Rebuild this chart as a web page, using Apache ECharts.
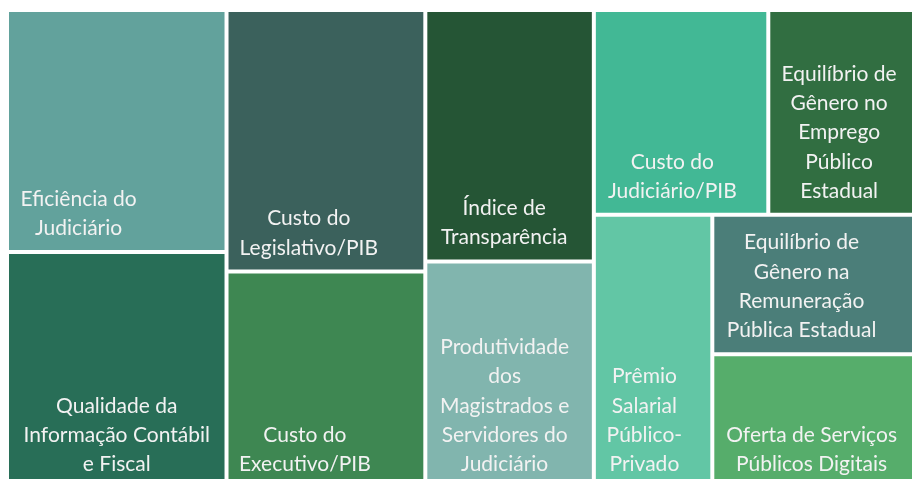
<!DOCTYPE html>
<html>
<head>
<meta charset="utf-8">
<script src="https://cdn.jsdelivr.net/npm/echarts@6/dist/echarts.min.js"></script>
<style>
  html, body { margin: 0; padding: 0; background: #fff; }
  #main { width: 912px; height: 479px; }
</style>
</head>
<body>
<div id="main"></div>
<script>
var chart = echarts.init(document.getElementById('main'));

// indicadores, na ordem em que aparecem no mapa
var names = [
  'Eficiência do\nJudiciário',
  'Qualidade da\nInformação Contábil\ne Fiscal',
  'Custo do\nLegislativo/PIB',
  'Custo do\nExecutivo/PIB',
  'Índice de\nTransparência',
  'Produtividade\ndos\nMagistrados e\nServidores do\nJudiciário',
  'Custo do\nJudiciário/PIB',
  'Equilíbrio de\nGênero no\nEmprego\nPúblico\nEstadual',
  'Prêmio\nSalarial\nPúblico-\nPrivado',
  'Equilíbrio de\nGênero na\nRemuneração\nPública Estadual',
  'Oferta de Serviços\nPúblicos Digitais'
];
// peso (%) de cada indicador = área do bloco
var values = [12.23, 11.92, 11.96, 9.91, 9.75, 8.79, 8.22, 6.96, 7.45, 6.54, 6.27];

var colors = ['#62a29c', '#286e57', '#3b615c', '#3e8752', '#255535', '#81b5ae',
              '#42b895', '#316e41', '#62c6a5', '#4b7e79', '#56ad6b'];
// posição horizontal do texto dentro do bloco (fração da largura)
var labelX = [0.323, 0.5, 0.412, 0.392, 0.467, 0.47, 0.449, 0.479, 0.424, 0.437, 0.487];
var lineH = 29.3;

function buildData(pos) {
  return names.map(function (n, i) {
    var item = { name: n, value: values[i], itemStyle: { color: colors[i] } };
    if (pos) item.label = { position: pos[i] };
    return item;
  });
}

var option = {
  animation: false,
  series: [{
    type: 'treemap',
    left: 9,
    top: 12,
    width: 905,
    height: 474,
    roam: false,
    nodeClick: false,
    breadcrumb: { show: false },
    sort: false,
    squareRatio: 0.78,
    label: {
      show: true,
      color: '#f2f2f2',
      fontFamily: 'Lato',
      fontSize: 21,
      lineHeight: lineH,
      align: 'center',
      verticalAlign: 'top',
      padding: 0,
      overflow: 'none'
    },
    itemStyle: { borderWidth: 0, gapWidth: 4, borderColor: '#fff' },
    levels: [{ itemStyle: { borderWidth: 0, gapWidth: 4, borderColor: '#fff' } }],
    emphasis: { disabled: true },
    data: buildData()
  }]
};
chart.setOption(option);

// texto alinhado à base de cada bloco
var tree = chart.getModel().getSeriesByIndex(0).getData().tree;
var pos = tree.root.children.map(function (node, i) {
  var lay = node.getLayout();
  var nLines = names[i].split('\n').length;
  return [lay.width * labelX[i], lay.height - 7 - nLines * lineH];
});
chart.setOption({ series: [{ data: buildData(pos) }] });
</script>
</body>
</html>
